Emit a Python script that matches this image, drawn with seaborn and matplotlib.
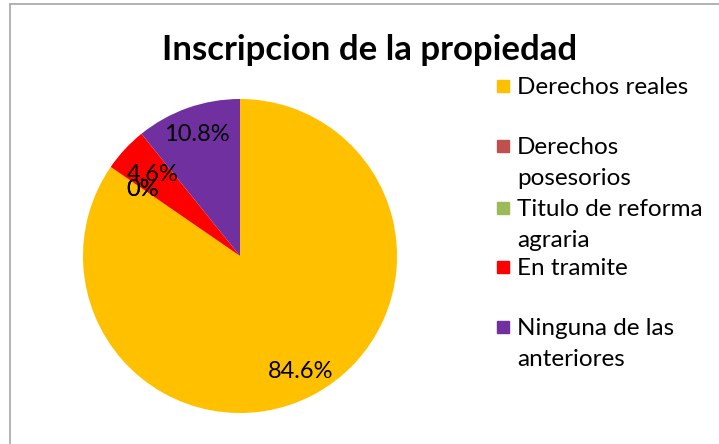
import matplotlib
matplotlib.use("Agg")
import matplotlib.pyplot as plt
import seaborn as sns
import numpy as np
from matplotlib.lines import Line2D

sns.set_theme(style="white")
plt.rcParams['font.family'] = ['Lato', 'DejaVu Sans']

categories = ["Derechos reales", "Derechos\nposesorios", "Titulo de reforma\nagraria",
              "En tramite", "Ninguna de las\nanteriores"]
values = [84.6, 0.0, 0.0, 4.6, 10.8]
labels_pct = ["84.6%", "0%", "0%", "4.6%", "10.8%"]
colors = ["#FFC000", "#C0504D", "#9BBB59", "#FF0000", "#7030A0"]
label_dist = [0.83, 0.75, 0.75, 0.76, 0.82]

W, H = 719, 444
fig = plt.figure(figsize=(W / 100, H / 100), dpi=100)
fig.patch.set_facecolor("white")

cx, cy, r = 240, 256, 157
ax = fig.add_axes([(cx - r) / W, 1 - (cy + r) / H, 2 * r / W, 2 * r / H])
wedges, _ = ax.pie(values, colors=colors, startangle=90, counterclock=False,
                   radius=1.0, wedgeprops=dict(linewidth=0))
total = sum(values)
ang = 90.0
for v, lab, d in zip(values, labels_pct, label_dist):
    span = v / total * 360
    mid = np.deg2rad(ang - span / 2)
    ang -= span
    ax.text(d * np.cos(mid), d * np.sin(mid), lab, ha="center", va="center",
            fontsize=17, color="black")
ax.set_xlim(-1, 1)
ax.set_ylim(-1, 1)
ax.set_aspect("equal")
ax.axis("off")

fig.text(370 / W, 1 - 50 / H, "Inscripcion de la propiedad", ha="center", va="center",
         fontsize=25, fontweight="bold", color="black")

leg_y = [86, 146, 208, 267, 327]
for c, lab, y in zip(colors, categories, leg_y):
    fig.patches.append(plt.Rectangle((497 / W, 1 - (y + 6) / H), 12 / W, 12 / H,
                                     transform=fig.transFigure, color=c, figure=fig))
    fig.text(517 / W, 1 - (y - 9) / H, lab, ha="left", va="top", fontsize=17.5,
             color="black", linespacing=1.6)

fig.lines.append(Line2D([10 / W, 10 / W], [0, 1 - 4 / H], transform=fig.transFigure,
                        color="#A6A6A6", linewidth=1.2))
fig.lines.append(Line2D([10 / W, 1], [1 - 4.5 / H, 1 - 4.5 / H], transform=fig.transFigure,
                        color="#A6A6A6", linewidth=1.2))

fig.savefig("out.png", dpi=100, facecolor="white")
